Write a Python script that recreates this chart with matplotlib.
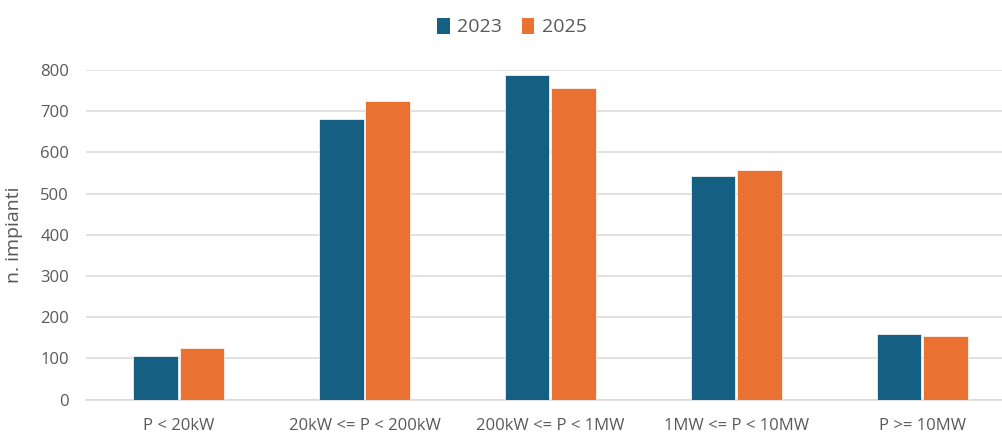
import matplotlib
matplotlib.use("Agg")
import matplotlib.pyplot as plt
import numpy as np
from matplotlib.patches import Patch

# dati
categorie = ["P < 20kW", "20kW <= P < 200kW", "200kW <= P < 1MW", "1MW <= P < 10MW", "P >= 10MW"]
anni = ["2023", "2025"]
valori_2023 = [105, 682, 788, 542, 160]
valori_2025 = [125, 724, 756, 557, 155]
colori = ["#156082", "#E97132"]

plt.rcParams['font.family'] = ['Open Sans', 'DejaVu Sans']
grigio = "#595959"

fig = plt.figure(figsize=(10.03, 4.33), dpi=100)
ax = fig.add_axes([85.8 / 1003, 33.5 / 433, (1003 - 85.8) / 1003, 329.5 / 433])

x = np.arange(len(categorie))
w = 0.24
ax.bar(x - 0.125, valori_2023, width=w, color=colori[0], edgecolor="white", linewidth=0.5, zorder=3)
ax.bar(x + 0.125, valori_2025, width=w, color=colori[1], edgecolor="white", linewidth=0.5, zorder=3)

ax.set_ylim(0, 800)
ax.set_xlim(-0.5, 4.5 - 12 / 185.8)
ax.set_yticks(range(0, 801, 100))
ax.yaxis.grid(True, color="#D9D9D9", linewidth=1.1, zorder=0)
ax.set_xticks(x)
ax.set_xticklabels(categorie)

for s in ["top", "right", "left"]:
    ax.spines[s].set_visible(False)
ax.spines["bottom"].set_color("#D9D9D9")
ax.spines["bottom"].set_linewidth(1.1)
ax.tick_params(axis="both", length=0, colors=grigio, labelsize=12)
ax.tick_params(axis="y", pad=12)
ax.tick_params(axis="x", pad=13)

ax.set_ylabel("n. impianti", fontsize=14, color=grigio)
ax.yaxis.set_label_coords(-63 / 917, 0.5)

handles = [Patch(facecolor=c) for c in colori]
fig.legend(handles, anni, loc="center", bbox_to_anchor=(512 / 1003, 1 - 27 / 433), ncol=2,
           frameon=False, fontsize=14, labelcolor=grigio, handlelength=0.65, handleheight=0.9,
           handletextpad=0.4, columnspacing=1.0)

plt.savefig("out.png", dpi=100, facecolor="white")
